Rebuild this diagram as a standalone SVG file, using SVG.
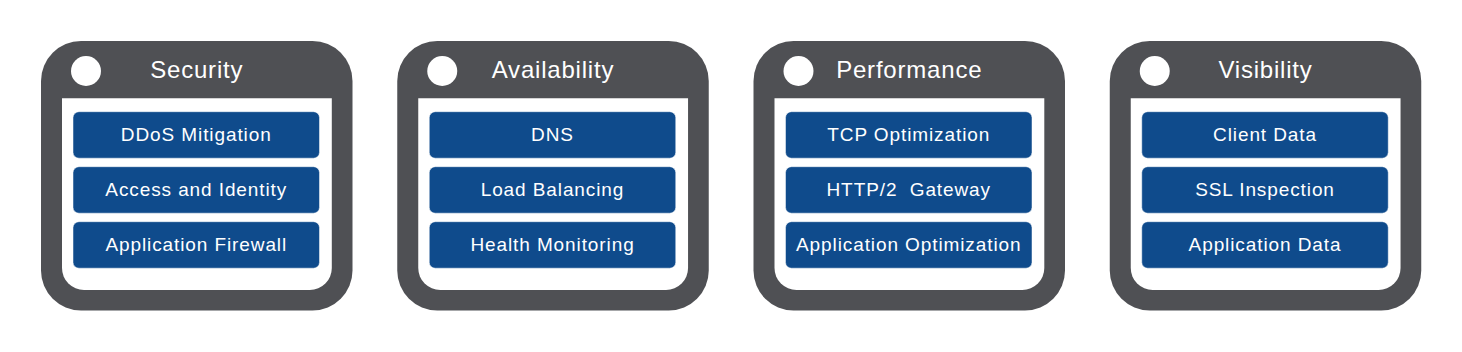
<svg xmlns="http://www.w3.org/2000/svg" width="1462" height="352" viewBox="0 0 1462 352">
<style>
.frame{fill:#4f5054}
.inner{fill:#ffffff}
.dot{fill:#ffffff}
.box{fill:#0f4b8c;stroke:#ffffff;stroke-width:0.5}
.title{font-family:"Liberation Sans",Arial,sans-serif;font-size:24px;fill:#ffffff;text-anchor:middle;letter-spacing:0.8px}
.lbl{font-family:"Liberation Sans",Arial,sans-serif;font-size:19px;fill:#ffffff;text-anchor:middle;letter-spacing:0.9px}
</style>
<defs>
<g id="panel">
<rect class="frame" x="0" y="0" width="311.5" height="269.5" rx="40" ry="40"/>
<path class="inner" d="M21,57.3 H290.8 V227 A22,22 0 0 1 268.8,249 H43 A22,22 0 0 1 21,227 Z"/>
<circle class="dot" cx="45" cy="30" r="15"/>
<rect class="box" x="32" y="70.7" width="246.5" height="46.5" rx="6"/>
<rect class="box" x="32" y="125.7" width="246.5" height="46.5" rx="6"/>
<rect class="box" x="32" y="180.7" width="246.5" height="46.5" rx="6"/>
</g>
</defs>
<g id="security" transform="translate(41,41)">
<use href="#panel"/>
<text class="title" x="155.75" y="37">Security</text>
<text class="lbl" x="155.25" y="99.5">DDoS Mitigation</text>
<text class="lbl" x="155.25" y="154.5">Access and Identity</text>
<text class="lbl" x="155.25" y="209.5">Application Firewall</text>
</g>
<g id="availability" transform="translate(397.25,41)">
<use href="#panel"/>
<text class="title" x="155.75" y="37">Availability</text>
<text class="lbl" x="155.25" y="99.5">DNS</text>
<text class="lbl" x="155.25" y="154.5">Load Balancing</text>
<text class="lbl" x="155.25" y="209.5">Health Monitoring</text>
</g>
<g id="performance" transform="translate(753.5,41)">
<use href="#panel"/>
<text class="title" x="155.75" y="37">Performance</text>
<text class="lbl" x="155.25" y="99.5">TCP Optimization</text>
<text class="lbl" x="155.25" y="154.5" xml:space="preserve">HTTP/2  Gateway</text>
<text class="lbl" x="155.25" y="209.5">Application Optimization</text>
</g>
<g id="visibility" transform="translate(1109.75,41)">
<use href="#panel"/>
<text class="title" x="155.75" y="37">Visibility</text>
<text class="lbl" x="155.25" y="99.5">Client Data</text>
<text class="lbl" x="155.25" y="154.5">SSL Inspection</text>
<text class="lbl" x="155.25" y="209.5">Application Data</text>
</g>
</svg>
